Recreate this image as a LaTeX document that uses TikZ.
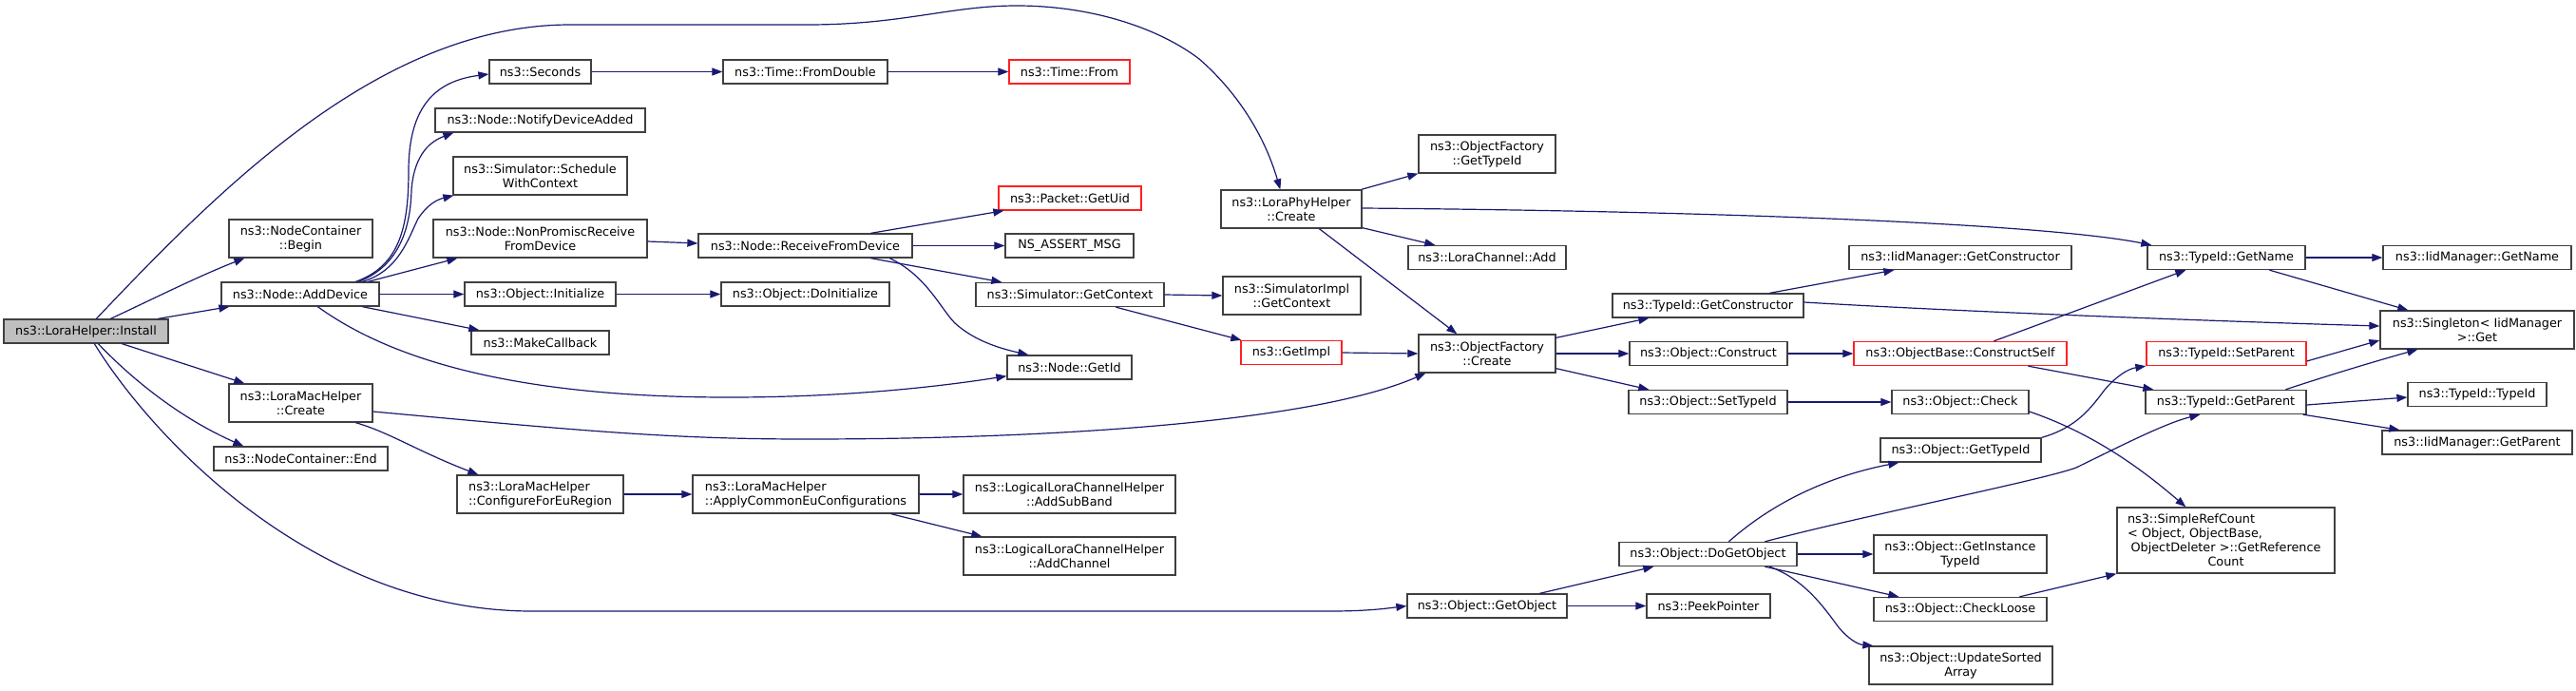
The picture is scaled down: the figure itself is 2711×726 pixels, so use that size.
\documentclass[tikz,border=0pt]{standalone}
\usepackage{fontspec}
\setmainfont{DejaVu Sans}
\usetikzlibrary{arrows.meta}
\definecolor{edgeblue}{HTML}{191970}
\definecolor{boxgray}{HTML}{BFBFBF}
\definecolor{boxline}{HTML}{404040}
\definecolor{redline}{HTML}{FF2020}
\tikzset{
 fn/.style={draw=boxline, line width=1.3pt, inner sep=0pt, align=center, font=\fontsize{12.8}{15}\selectfont, minimum height=25pt, fill=white},
 fn2/.style={fn, minimum height=40pt},
 redfn/.style={fn, draw=redline},
 cur/.style={fn, fill=boxgray},
 call/.style={draw=edgeblue, line width=1.2pt, -{Triangle[length=11pt,width=8pt]}},
}
\begin{document}
\begin{tikzpicture}[x=1pt,y=-1pt]
\useasboundingbox[fill=white] (0,0) rectangle (2711,726);
% nodes
\node[cur, minimum width=173pt] (install) at (90.5,348.5) {ns3::LoraHelper::Install};
\node[fn2, minimum width=151pt] (begin) at (316.5,251) {ns3::NodeContainer\\::Begin};
\node[fn, minimum width=166pt] (adddev) at (316,309.5) {ns3::Node::AddDevice};
\node[fn2, minimum width=151pt] (lmcreate) at (316.5,424) {ns3::LoraMacHelper\\::Create};
\node[fn, minimum width=183pt] (ncend) at (316.5,482.5) {ns3::NodeContainer::End};
\node[fn, minimum width=107pt] (seconds) at (568.5,75.5) {ns3::Seconds};
\node[fn, minimum width=221pt] (notify) at (568.5,126.5) {ns3::Node::NotifyDeviceAdded};
\node[fn2, minimum width=183pt] (sched) at (568.5,185) {ns3::Simulator::Schedule\\WithContext};
\node[fn2, minimum width=225pt] (nonprom) at (568.5,251) {ns3::Node::NonPromiscReceive\\FromDevice};
\node[fn, minimum width=159pt] (objinit) at (568.5,309.5) {ns3::Object::Initialize};
\node[fn, minimum width=145pt] (makecb) at (568.5,360.5) {ns3::MakeCallback};
\node[fn2, minimum width=175pt, align=left] (cfgeu) at (568.5,520) {ns3::LoraMacHelper\\::ConfigureForEuRegion};
\node[fn, minimum width=173pt] (fromdouble) at (847.5,75.5) {ns3::Time::FromDouble};
\node[redfn, minimum width=127pt] (timefrom) at (1125.5,75.5) {ns3::Time::From};
\node[redfn, minimum width=150pt] (getuid) at (1126,208.5) {ns3::Packet::GetUid};
\node[fn, minimum width=225pt] (recvdev) at (847.5,258.5) {ns3::Node::ReceiveFromDevice};
\node[fn, minimum width=135pt] (nsassert) at (1125.5,258.5) {NS\_ASSERT\_MSG};
\node[fn, minimum width=177pt] (doinit) at (847.5,309.5) {ns3::Object::DoInitialize};
\node[fn, minimum width=198pt] (simgetctx) at (1126,310) {ns3::Simulator::GetContext};
\node[fn, minimum width=131pt] (getid) at (1125.5,386.5) {ns3::Node::GetId};
\node[fn2, minimum width=238pt, align=left] (applyeu) at (848,520) {ns3::LoraMacHelper\\::ApplyCommonEuConfigurations};
\node[fn2, minimum width=223pt] (addsub) at (1125.5,520) {ns3::LogicalLoraChannelHelper\\::AddSubBand};
\node[fn2, minimum width=223pt] (addchan) at (1125.5,585) {ns3::LogicalLoraChannelHelper\\::AddChannel};
\node[fn2, minimum width=144pt] (ofgettype) at (1565,162) {ns3::ObjectFactory\\::GetTypeId};
\node[fn2, minimum width=148pt] (lphcreate) at (1359,220) {ns3::LoraPhyHelper\\::Create};
\node[fn, minimum width=166pt] (lcadd) at (1565,271) {ns3::LoraChannel::Add};
\node[fn2, minimum width=145pt] (simimplctx) at (1359.5,311) {ns3::SimulatorImpl\\::GetContext};
\node[redfn, minimum width=106pt] (getimpl) at (1359,371) {ns3::GetImpl};
\node[fn2, minimum width=144pt] (ofcreate) at (1565,372) {ns3::ObjectFactory\\::Create};
\node[fn, minimum width=201pt] (getctor) at (1797.5,321.5) {ns3::TypeId::GetConstructor};
\node[fn, minimum width=166pt] (construct) at (1798,372) {ns3::Object::Construct};
\node[fn, minimum width=167pt] (settypeid) at (1797.5,423) {ns3::Object::SetTypeId};
\node[fn, minimum width=168pt] (getobject) at (1565,637.5) {ns3::Object::GetObject};
\node[fn, minimum width=187pt] (dogetobj) at (1797.5,583) {ns3::Object::DoGetObject};
\node[fn, minimum width=130pt] (peekptr) at (1798,637.5) {ns3::PeekPointer};
\node[fn, minimum width=234pt] (iidgetctor) at (2063,271) {ns3::IidManager::GetConstructor};
\node[redfn, minimum width=224pt] (constructself) at (2063,372) {ns3::ObjectBase::ConstructSelf};
\node[fn, minimum width=144pt] (objcheck) at (2063,423) {ns3::Object::Check};
\node[fn, minimum width=169pt] (objgettype) at (2063.5,473.5) {ns3::Object::GetTypeId};
\node[fn2, minimum width=182pt] (getinst) at (2063,583) {ns3::Object::GetInstance\\TypeId};
\node[fn, minimum width=182pt] (checkloose) at (2063,641) {ns3::Object::CheckLoose};
\node[fn2, minimum width=193pt] (updsorted) at (2063.5,700) {ns3::Object::UpdateSorted\\Array};
\node[fn, minimum width=166pt] (getname) at (2343,271) {ns3::TypeId::GetName};
\node[redfn, minimum width=168pt] (setparent) at (2343,372) {ns3::TypeId::SetParent};
\node[fn, minimum width=169pt] (getparent) at (2342.5,423) {ns3::TypeId::GetParent};
\node[fn, minimum width=229pt, minimum height=69pt, text width=207pt] (simpleref) at (2342.5,568.5) {\makebox[207pt][l]{ns3::SimpleRefCount}\\\makebox[207pt][l]{< Object, ObjectBase,}\\ObjectDeleter >::GetReference\\Count};
\node[fn, minimum width=198pt] (iidgetname) at (2607,271) {ns3::IidManager::GetName};
\node[fn2, minimum width=204pt] (singleton) at (2607,347) {ns3::Singleton< IidManager\\ >::Get};
\node[fn, minimum width=146pt] (typeidtypeid) at (2607,415) {ns3::TypeId::TypeId};
\node[fn, minimum width=200pt] (iidgetparent) at (2607,465.5) {ns3::IidManager::GetParent};
% edges from Install
\draw[call] ([xshift=98pt]install.north west) .. controls (230,200) and (400,26) .. (600,26) -- (850,26) .. controls (950,26) and (1000,6) .. (1070,6) .. controls (1150,6) and (1220,30) .. (1262,62) .. controls (1300,95) and (1330,140) .. ([xshift=63pt]lphcreate.north west);
\draw[call] ([xshift=113pt]install.north west) .. controls (160,315) and (210,290) .. ([xshift=17pt]begin.south west);
\draw[call] ([xshift=163pt]install.north west) -- ([xshift=9pt]adddev.south west);
\draw[call] ([xshift=125pt]install.south west) -- ([xshift=17pt]lmcreate.north west);
\draw[call] ([xshift=100pt]install.south west) .. controls (140,400) and (190,440) .. ([xshift=32pt]ncend.north west);
\draw[call] ([xshift=96pt]install.south west) .. controls (160,460) and (330,643) .. (560,643) -- (1400,643) .. controls (1440,643) and (1460,640) .. (getobject.west);
% AddDevice
\draw[call] ([xshift=142pt]adddev.north west) .. controls (420,280) and (430,240) .. (430,180) .. controls (430,110) and (460,85) .. ([yshift=-2.5pt]seconds.west);
\draw[call] ([xshift=145pt]adddev.north west) .. controls (420,280) and (432,240) .. (433,200) .. controls (436,160) and (455,148) .. ([xshift=20pt]notify.south west);
\draw[call] ([xshift=149pt]adddev.north west) .. controls (420,285) and (430,250) .. (440,230) .. controls (450,215) and (460,210) .. ([xshift=1pt]sched.south west);
\draw[call] ([xshift=155pt]adddev.north west) -- ([xshift=26pt]nonprom.south west);
\draw[call] (adddev.east) -- (objinit.west);
\draw[call] ([xshift=149pt]adddev.south west) -- ([xshift=9pt]makecb.north west);
\draw[call] ([xshift=102pt]adddev.south west) .. controls (400,370) and (520,418) .. (767,418) .. controls (900,418) and (1000,405) .. ([yshift=4pt]getid.south west);
% LoraMacHelper::Create
\draw[call] ([yshift=-9pt]lmcreate.east) .. controls (600,452) and (700,462) .. (848,462) .. controls (1100,462) and (1380,445) .. ([xshift=8pt]ofcreate.south west);
\draw[call] ([xshift=134pt]lmcreate.south west) .. controls (410,455) and (440,475) .. ([xshift=23pt]cfgeu.north west);
\draw[call] (cfgeu.east) -- (applyeu.west);
\draw[call] (applyeu.east) -- (addsub.west);
\draw[call] ([xshift=-30pt]applyeu.south east) -- ([xshift=20pt]addchan.north west);
% second column
\draw[call] (seconds.east) -- (fromdouble.west);
\draw[call] (fromdouble.east) -- (timefrom.west);
\draw[call] ([yshift=-3pt]nonprom.east) -- ([yshift=2.5pt]recvdev.west);
\draw[call] ([xshift=182pt]recvdev.north west) -- ([xshift=6pt]getuid.south west);
\draw[call] (recvdev.east) -- (nsassert.west);
\draw[call] ([xshift=182pt]recvdev.south west) -- ([xshift=28pt]simgetctx.north west);
\draw[call] ([xshift=202pt]recvdev.south west) .. controls (975,290) and (990,325) .. (1005,340) .. controls (1025,358) and (1050,366) .. ([xshift=23pt]getid.north west);
\draw[call] (objinit.east) -- (doinit.west);
\draw[call] (simgetctx.east) -- (simimplctx.west);
\draw[call] ([xshift=148pt]simgetctx.south west) -- ([xshift=1pt]getimpl.north west);
\draw[call] (getimpl.east) -- (ofcreate.west);
% LoraPhyHelper::Create
\draw[call] ([xshift=-1pt]lphcreate.north east) -- (ofgettype.south west);
\draw[call] ([yshift=1pt]lphcreate.east) .. controls (1800,222) and (2150,235) .. ([xshift=5pt]getname.north west);
\draw[call] ([yshift=1pt]lphcreate.south east) -- ([xshift=29pt]lcadd.north west);
\draw[call] ([xshift=104pt]lphcreate.south west) -- ([xshift=41pt]ofcreate.north west);
% ObjectFactory::Create
\draw[call] ([yshift=-4pt]ofcreate.north east) -- ([xshift=39pt]getctor.south west);
\draw[call] (ofcreate.east) -- (construct.west);
\draw[call] ([yshift=5pt]ofcreate.south east) -- ([xshift=22pt]settypeid.north west);
\draw[call] ([xshift=166pt]getctor.north west) -- ([xshift=48pt]iidgetctor.south west);
\draw[call] ([yshift=3.5pt]getctor.east) .. controls (2100,330) and (2400,340) .. ([yshift=4pt]singleton.west);
\draw[call] (construct.east) -- (constructself.west);
\draw[call] ([xshift=148pt]constructself.north west) -- ([xshift=41pt]getname.south west);
\draw[call] ([xshift=184pt]constructself.south west) -- ([xshift=9pt]getparent.north west);
\draw[call] (getname.east) -- (iidgetname.west);
\draw[call] ([xshift=129pt]getname.south west) -- ([xshift=30pt]singleton.north west);
\draw[call] ([yshift=-8pt]setparent.east) -- ([yshift=-11pt]singleton.west);
\draw[call] ([xshift=148pt]getparent.north west) .. controls (2450,395) and (2500,380) .. ([xshift=40pt]singleton.south west);
\draw[call] ([yshift=-3pt]getparent.east) -- ([yshift=-3pt]typeidtypeid.west);
\draw[call] ([xshift=-4pt]getparent.south east) -- ([xshift=19pt]iidgetparent.north west);
\draw[call] (settypeid.east) -- (objcheck.west);
\draw[call] ([yshift=-10pt]objcheck.east) .. controls (2200,455) and (2250,490) .. ([xshift=73pt]simpleref.north west);
\draw[call] (objgettype.north east) .. controls (2185,450) and (2200,430) .. (2215,410) .. controls (2228,395) and (2240,388) .. (setparent.south west);
% GetObject
\draw[call] ([xshift=140pt]getobject.north west) -- ([xshift=37pt]dogetobj.south west);
\draw[call] (getobject.east) -- (peekptr.west);
\draw[call] ([xshift=116pt]dogetobj.north west) .. controls (1870,525) and (1930,500) .. ([xshift=20pt]objgettype.south west);
\draw[call] ([xshift=154pt]dogetobj.north west) .. controls (1950,545) and (2150,505) .. (2185,492) .. controls (2240,465) and (2280,445) .. ([xshift=58pt]getparent.south west);
\draw[call] (dogetobj.east) -- (getinst.west);
\draw[call] ([xshift=154pt]dogetobj.south west) -- ([xshift=27pt]checkloose.north west);
\draw[call] ([xshift=159pt]dogetobj.south west) .. controls (1900,610) and (1920,640) .. (1935,660) .. controls (1945,672) and (1955,678) .. ([xshift=5pt]updsorted.north west);
\draw[call] ([xshift=154pt]checkloose.north west) -- (simpleref.south west);
\end{tikzpicture}
\end{document}
